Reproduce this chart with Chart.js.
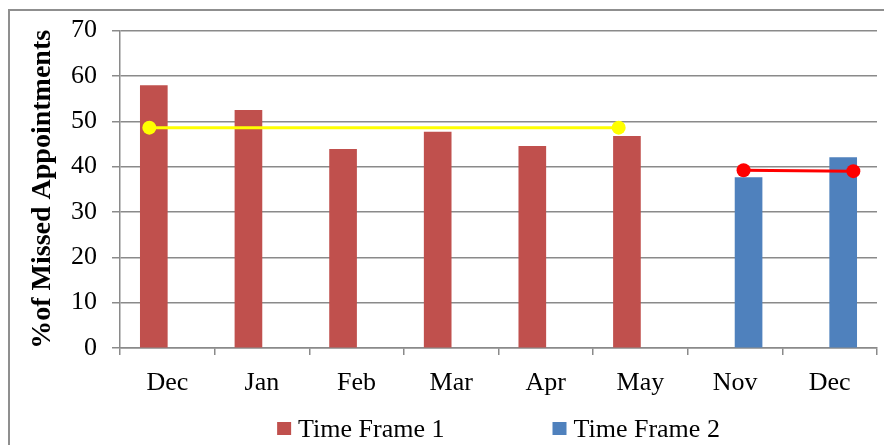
<!DOCTYPE html>
<html>
<head>
<meta charset="utf-8">
<script src="https://cdn.jsdelivr.net/npm/chart.js@4"></script>
<style>
  html, body { margin: 0; padding: 0; background: #fff; }
  #wrap { width: 884px; height: 445px; position: relative; }
</style>
</head>
<body>
<div id="wrap"><canvas id="myChart" width="884" height="445"></canvas></div>
<script>
// DATA
let months = ['Dec', 'Jan', 'Feb', 'Mar', 'Apr', 'May', 'Nov', 'Dec'];
let yTicks = [0, 10, 20, 30, 40, 50, 60, 70];
let timeFrame1 = [57.9, 52.4, 43.8, 47.6, 44.5, 46.7, null, null];
let timeFrame2 = [null, null, null, null, null, null, 37.6, 42.0];
// average lines, x given as month index (0 = first Dec)
let avg1X = [-0.19, 4.77];
let avg1Y = [48.6, 48.6];
let avg2X = [6.09, 7.25];
let avg2Y = [39.2, 39.0];

const serif = "'Liberation Serif', 'Times New Roman', serif";
const gridGray = '#8a8a8a';

function points(xs, ys) {
  return xs.map((x, i) => ({ x: x, y: ys[i] }));
}

// outer frame like the spreadsheet chart box
const framePlugin = {
  id: 'frame',
  beforeDraw(chart) {
    const ctx = chart.ctx;
    ctx.save();
    ctx.strokeStyle = '#8f8f8f';
    ctx.lineWidth = 2;
    ctx.strokeRect(9, 10, chart.width + 20, chart.height + 20);
    ctx.restore();
  }
};

// legend drawn by hand so the gap between items matches
const legendPlugin = {
  id: 'bottomLegend',
  afterDraw(chart) {
    const ctx = chart.ctx;
    const items = chart.data.datasets.filter(d => d.type === 'bar');
    const boxW = 14, boxH = 13, gap = 7, between = 108;
    ctx.save();
    ctx.font = '26px ' + serif;
    ctx.textBaseline = 'alphabetic';
    let widths = items.map(d => boxW + gap + ctx.measureText(d.label).width);
    let total = widths.reduce((a, b) => a + b, 0) + between * (items.length - 1);
    let x = (chart.chartArea.left + chart.chartArea.right) / 2 - total / 2;
    let y = 437;
    items.forEach((d, i) => {
      ctx.fillStyle = d.backgroundColor;
      ctx.fillRect(x, y - 15, boxW, boxH);
      ctx.fillStyle = '#000';
      ctx.fillText(d.label, x + boxW + gap, y);
      x += widths[i] + between;
    });
    ctx.restore();
  }
};

let ctx = document.getElementById('myChart').getContext('2d');
window.bar = new Chart(ctx, {
  data: {
    labels: months,
    datasets: [
      {
        type: 'bar',
        label: 'Time Frame 1',
        data: timeFrame1,
        backgroundColor: '#C0504D',
        barThickness: 27,
        order: 1
      },
      {
        type: 'bar',
        label: 'Time Frame 2',
        data: timeFrame2,
        backgroundColor: '#4F81BD',
        barThickness: 27,
        order: 1
      },
      {
        type: 'line',
        label: 'Average 1',
        data: points(avg1X, avg1Y),
        parsing: false,
        borderColor: '#FFFF00',
        backgroundColor: '#FFFF00',
        borderWidth: 3,
        pointRadius: 7,
        pointBorderWidth: 0,
        order: 0
      },
      {
        type: 'line',
        label: 'Average 2',
        data: points(avg2X, avg2Y),
        parsing: false,
        borderColor: '#FF0000',
        backgroundColor: '#FF0000',
        borderWidth: 3,
        pointRadius: 7,
        pointBorderWidth: 0,
        order: 0
      }
    ]
  },
  options: {
    responsive: false,
    animation: false,
    layout: { padding: { top: 29, right: -3, left: 0, bottom: 0 } },
    plugins: {
      legend: { display: false },
      tooltip: { enabled: false }
    },
    scales: {
      x: {
        offset: true,
        grid: {
          offset: true,
          drawOnChartArea: false,
          drawTicks: true,
          tickLength: 7,
          color: gridGray,
          lineWidth: 1.5
        },
        border: { color: gridGray, width: 1.5 },
        ticks: {
          color: '#000',
          padding: 13,
          font: { family: serif, size: 26 },
          maxRotation: 0
        },
        afterFit(scale) {
          scale.height = 97;
          scale.paddingLeft = 0;
          scale.paddingRight = 0;
        }
      },
      y: {
        min: 0,
        max: 70,
        afterBuildTicks(scale) { scale.ticks = yTicks.map(v => ({ value: v })); },
        grid: {
          color: gridGray,
          lineWidth: 1.5,
          drawTicks: true,
          tickLength: 8
        },
        border: { color: gridGray, width: 1.5 },
        ticks: {
          color: '#000',
          padding: 15,
          font: { family: serif, size: 26 }
        },
        title: {
          display: true,
          text: '%of Missed Appointments',
          color: '#000',
          font: { family: serif, size: 28, weight: 'bold' },
          padding: { top: 26, bottom: 0 }
        },
        afterFit(scale) { scale.width = 120; }
      }
    }
  },
  plugins: [framePlugin, legendPlugin]
});
</script>
</body>
</html>
